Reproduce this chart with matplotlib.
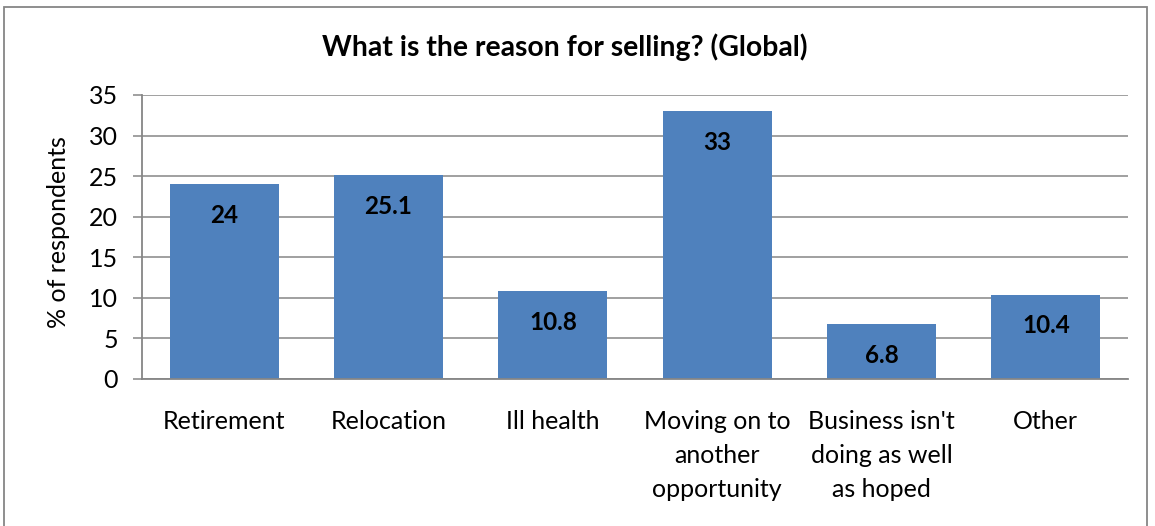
import matplotlib
matplotlib.use("Agg")
import matplotlib.pyplot as plt
from matplotlib.patches import Rectangle

categories = ["Retirement", "Relocation", "Ill health",
              "Moving on to\nanother\nopportunity",
              "Business isn't\ndoing as well\nas hoped", "Other"]
values = [24, 25.1, 10.8, 33, 6.8, 10.4]
value_labels = ["24", "25.1", "10.8", "33", "6.8", "10.4"]
yticks = [0, 5, 10, 15, 20, 25, 30, 35]

plt.rcParams['font.family'] = ['Lato', 'DejaVu Sans']

W, H = 1155, 526
fig = plt.figure(figsize=(W / 100, H / 100), dpi=100)
grid_c = "#868686"
bar_c = "#4F81BD"

ax = fig.add_axes([142 / W, 1 - 379 / H, (1128 - 142) / W, (379 - 95) / H])
x = list(range(len(categories)))
ax.bar(x, values, width=0.665, color=bar_c, zorder=3)
ax.set_xlim(-0.5, len(categories) - 0.5)
ax.set_ylim(0, 35)
ax.set_yticks(yticks)
ax.set_yticklabels([str(t) for t in yticks], fontsize=18)
ax.set_xticks(x)
ax.set_xticklabels(categories, fontsize=18, linespacing=1.56, va='top')
ax.tick_params(axis='x', length=0, pad=22.5)
ax.tick_params(axis='y', length=6.5, width=1.1, color=grid_c, pad=11)
ax.yaxis.grid(True, color=grid_c, linewidth=1.1, zorder=0)
for s in ("top", "right"):
    ax.spines[s].set_visible(False)
for s in ("left", "bottom"):
    ax.spines[s].set_color(grid_c)
    ax.spines[s].set_linewidth(1.3)
ax.spines["bottom"].set_zorder(4)

for xi, v, lab in zip(x, values, value_labels):
    ax.annotate(lab, (xi, v), xytext=(0, -22.5), textcoords="offset points",
                ha="center", va="center", fontsize=17.5, fontweight="bold",
                color="black", zorder=5)

ax.set_ylabel("% of respondents", fontsize=18)
ax.yaxis.set_label_coords(70 / W, 1 - 232 / H, transform=fig.transFigure)
fig.text(565 / W, 1 - 47 / H, "What is the reason for selling? (Global)",
         ha="center", va="center", fontsize=20.4, fontweight="bold")

fig.patches.append(Rectangle((4 / W, -0.05), (1147 - 4) / W, 1.05 - 7 / H,
                             transform=fig.transFigure, fill=False,
                             edgecolor=grid_c, linewidth=1.3))

fig.savefig("out.png", dpi=100, facecolor="white")
